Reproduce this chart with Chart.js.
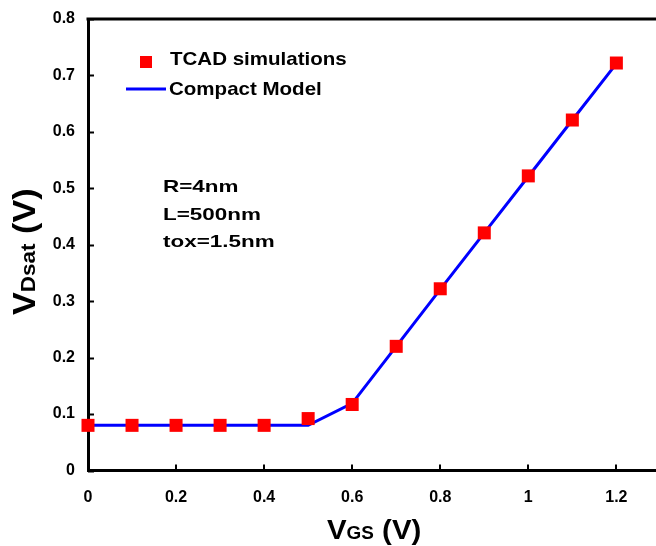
<!DOCTYPE html>
<html>
<head>
<meta charset="utf-8">
<script src="https://cdn.jsdelivr.net/npm/chart.js@4"></script>
<style>
  html, body { margin: 0; padding: 0; background: #fff; }
  #vdsat-chart { display: block; }
</style>
</head>
<body>
<canvas id="vdsat-chart" width="656" height="546"></canvas>
<script>
// V_GS sweep (V)
const vgs = [0, 0.1, 0.2, 0.3, 0.4, 0.5, 0.6, 0.7, 0.8, 0.9, 1.0, 1.1, 1.2];
// TCAD simulated VDsat (V)
const tcadVdsat = [0.08, 0.08, 0.08, 0.08, 0.08, 0.092, 0.117, 0.22, 0.322, 0.421, 0.522, 0.621, 0.722];
// compact model VDsat (V)
const modelVdsat = [0.08, 0.08, 0.08, 0.08, 0.08, 0.08, 0.119, 0.22, 0.321, 0.421, 0.521, 0.621, 0.721];

const xTicks = [0, 0.2, 0.4, 0.6, 0.8, 1, 1.2];
const yTicks = [0, 0.1, 0.2, 0.3, 0.4, 0.5, 0.6, 0.7, 0.8];
const legendLabels = ["TCAD simulations", "Compact Model"];
const noteLines = ["R=4nm", "L=500nm", "tox=1.5nm"];

const FONT = "'Liberation Sans', Arial, sans-serif";
const RED = "#ff0000";
const BLUE = "#0000ff";

const toXY = (ys) => vgs.map((x, i) => ({ x: x, y: ys[i] }));

// inward tick marks, top frame line, legend, notes and axis titles
const decorations = {
  id: "decorations",
  afterDraw(chart) {
    const { ctx, chartArea: a, scales: { x, y } } = chart;
    ctx.save();
    ctx.strokeStyle = "#000";
    ctx.lineWidth = 2;
    yTicks.forEach(v => {
      const py = Math.round(y.getPixelForValue(v)) + 0.5;
      ctx.beginPath(); ctx.moveTo(a.left, py); ctx.lineTo(a.left + 6, py); ctx.stroke();
    });
    xTicks.forEach(v => {
      const px = Math.round(x.getPixelForValue(v));
      ctx.beginPath(); ctx.moveTo(px, a.bottom); ctx.lineTo(px, a.bottom - 6); ctx.stroke();
    });
    // top frame
    ctx.lineWidth = 3;
    ctx.beginPath(); ctx.moveTo(a.left - 1.5, a.top); ctx.lineTo(a.right, a.top); ctx.stroke();

    // legend
    ctx.fillStyle = RED;
    ctx.fillRect(140, 56, 12, 12);
    ctx.strokeStyle = BLUE;
    ctx.lineWidth = 3;
    ctx.beginPath(); ctx.moveTo(126, 89); ctx.lineTo(166, 89); ctx.stroke();
    ctx.fillStyle = "#000";
    ctx.textAlign = "left";
    ctx.textBaseline = "alphabetic";
    ctx.font = "bold 19px " + FONT;
    drawWide(ctx, legendLabels[0], 170, 65, 1.08);
    drawWide(ctx, legendLabels[1], 169, 95, 1.08);

    // device parameters
    ctx.font = "bold 17px " + FONT;
    noteLines.forEach((t, i) => drawWide(ctx, t, 163, 192 + i * 27.5, 1.32));

    // x title: V_GS (V)
    drawSubTitle(ctx, "V", "GS", " (V)", 327, 539, 28, 18, 1.05);

    // y title: V_Dsat (V), rotated
    ctx.save();
    ctx.translate(35, 315);
    ctx.rotate(-Math.PI / 2);
    drawSubTitle(ctx, "V", "Dsat", " (V)", 0, 0, 32, 21, 1.07);
    ctx.restore();

    ctx.restore();
  }
};

function drawWide(ctx, text, x, y, sx) {
  ctx.save();
  ctx.translate(x, y);
  ctx.scale(sx, 1);
  ctx.fillText(text, 0, 0);
  ctx.restore();
}

function drawSubTitle(ctx, main, sub, tail, x, y, big, small, sx) {
  ctx.save();
  ctx.translate(x, y);
  ctx.scale(sx, 1);
  ctx.fillStyle = "#000";
  ctx.textAlign = "left";
  ctx.textBaseline = "alphabetic";
  ctx.font = "bold " + big + "px " + FONT;
  let cx = 0;
  ctx.fillText(main, cx, 0);
  cx += ctx.measureText(main).width;
  ctx.font = "bold " + small + "px " + FONT;
  ctx.fillText(sub, cx, 0);
  cx += ctx.measureText(sub).width;
  ctx.font = "bold " + big + "px " + FONT;
  ctx.fillText(tail, cx, 0);
  ctx.restore();
}

const tickFont = { family: FONT, size: 16, weight: "bold" };

new Chart(document.getElementById("vdsat-chart").getContext("2d"), {
  type: "scatter",
  data: {
    datasets: [
      {
        label: legendLabels[0],
        data: toXY(tcadVdsat),
        pointStyle: "rect",
        pointRadius: 9.2,
        pointBackgroundColor: RED,
        pointBorderWidth: 0,
        showLine: false,
        clip: false,
        order: 0,
      },
      {
        label: legendLabels[1],
        data: toXY(modelVdsat),
        showLine: true,
        borderColor: BLUE,
        borderWidth: 3,
        tension: 0,
        pointRadius: 0,
        order: 1,
      },
    ],
  },
  options: {
    responsive: false,
    animation: false,
    devicePixelRatio: 1,
    layout: { autoPadding: false, padding: { top: 19, right: 0, bottom: 0, left: 0 } },
    plugins: { legend: { display: false }, tooltip: { enabled: false } },
    scales: {
      x: {
        type: "linear",
        min: 0,
        max: 1.29,
        grid: { display: false, drawTicks: false },
        border: { display: true, color: "#000", width: 3 },
        afterBuildTicks: s => { s.ticks = xTicks.map(v => ({ value: v })); },
        afterFit: s => { s.height = 75.5; s.paddingLeft = 0; s.paddingRight = 0; },
        ticks: { color: "#000", padding: 17, font: tickFont, callback: v => String(v) },
      },
      y: {
        type: "linear",
        min: 0,
        max: 0.8,
        grid: { display: false, drawTicks: false },
        border: { display: true, color: "#000", width: 3 },
        afterBuildTicks: s => { s.ticks = yTicks.map(v => ({ value: v })); },
        afterFit: s => { s.width = 88; s.paddingTop = 0; s.paddingBottom = 0; },
        ticks: { color: "#000", padding: 13, font: tickFont, callback: v => String(v) },
      },
    },
  },
  plugins: [decorations],
});
</script>
</body>
</html>
